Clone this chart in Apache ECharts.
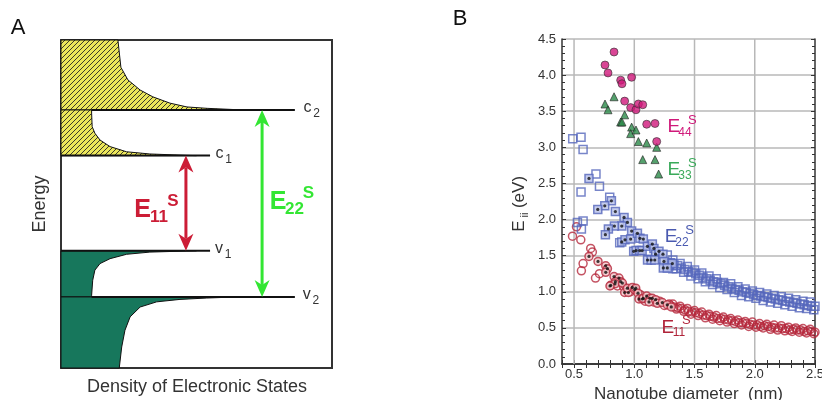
<!DOCTYPE html>
<html><head><meta charset="utf-8">
<script src="https://cdn.jsdelivr.net/npm/echarts@6.0.0/dist/echarts.min.js"></script>
<style>html,body{margin:0;padding:0;background:#fff}#c{width:822px;height:400px}</style>
</head><body><div id="c"></div>
<script>
// ---------------- Panel A : schematic density of states ----------------
const levelLetter = ['c', 'c', 'v', 'v'];
const levelSub = ['2', '1', '1', '2'];
const levelEnergy = [9.44, 7.77, 4.29, 2.60];
const levelStart = [1.13, 0, 0, 1.13];
const levelEnd = [8.63, 5.5, 5.5, 8.63];
const levelLabelX = [9.10, 5.85, 5.83, 9.07];

const conductionTop = [[0,12],[2.10,12],[2.21,11.0],[2.47,10.54],[2.92,10.17],[3.39,9.92],[4.02,9.69],[4.65,9.55],[5.39,9.50],[6.5,9.45],[6.5,9.44],[0,9.44]];
const conductionLow = [[0,9.44],[1.13,9.44],[1.13,9.32],[1.15,8.83],[1.25,8.59],[1.44,8.34],[1.81,8.10],[2.42,7.91],[3.28,7.83],[4.64,7.78],[5.0,7.77],[0,7.77]];
const valenceUp = [[0,4.29],[5.0,4.29],[4.64,4.28],[3.28,4.24],[2.42,4.16],[1.81,4.0],[1.44,3.82],[1.25,3.58],[1.17,3.21],[1.13,2.66],[1.13,2.60],[0,2.60]];
const valenceLow = [[0,2.60],[6.5,2.60],[5.38,2.56],[4.39,2.51],[3.53,2.42],[2.92,2.23],[2.55,1.87],[2.36,1.38],[2.24,0.77],[2.15,0],[0,0]];
const lobes = [conductionTop, conductionLow, valenceUp, valenceLow];

const arrowX = [4.61, 7.42];
const arrowFrom = [7.77, 9.44];
const arrowTo = [4.29, 2.60];
const gapSub = ['11', '22'];
const gapLabelX = [3.007, 8.007];
const gapLabelY = [5.77, 6.063];

// ---------------- Panel B : Kataura plot ----------------
const E44 = [[0.832,4.32],[0.757,4.14],[0.782,4.03],[0.887,3.93],[0.898,3.88],[0.978,3.97],[0.920,3.64],[0.970,3.55],[1.014,3.52],[1.034,3.60],[1.070,3.59],[1.103,3.32],[1.172,3.33],[1.186,3.08]];
const E33 = [[0.757,3.60],[0.782,3.52],[0.832,3.70],[0.920,3.45],[0.887,3.35],[0.898,3.35],[0.978,3.28],[0.970,3.19],[1.014,3.24],[1.034,3.08],[1.103,3.06],[1.186,3.00],[1.070,2.83],[1.172,2.83],[1.202,2.63]];

const E22open = [[0.489,3.12],[0.558,3.14],[0.575,2.97],[0.682,2.63],[0.558,2.38],[0.711,2.46],[0.796,2.31],[0.528,1.96],[0.575,1.98],[0.561,1.87],[0.879,1.68],[1.274,1.51],[1.288,1.36],[1.227,1.45],[1.30,1.40],[1.32,1.32],[1.114,1.56]];
const E22dot = [[0.624,2.57],[0.810,2.26],[0.755,2.19],[0.697,2.14],[0.843,2.11],[0.915,2.03],[0.943,1.96],[0.896,1.91],[0.835,1.91],[0.785,1.87],[0.760,1.79],[0.978,1.84],[0.896,1.69],[0.923,1.72],[0.970,1.73],[1.026,1.81],[1.047,1.74],[1.075,1.73],[0.995,1.56],[1.015,1.57],[1.045,1.57],[1.065,1.57],[1.109,1.63],[1.150,1.66],[1.163,1.60],[1.177,1.52],[1.205,1.56],[1.11,1.44],[1.14,1.44],[1.17,1.44],[1.238,1.52],[1.246,1.42],[1.316,1.39],[1.241,1.33],[1.274,1.33]];
const E22band = [
 [1.32,1.44],[1.38,1.39],[1.44,1.35],[1.50,1.30],[1.56,1.26],[1.62,1.22],[1.68,1.18],[1.74,1.13],[1.80,1.11],[1.86,1.07],[1.92,1.04],[1.98,1.01],[2.04,0.99],[2.10,0.97],[2.16,0.95],[2.22,0.93],[2.28,0.91],[2.34,0.89],[2.40,0.87],[2.46,0.86],
 [1.35,1.32],[1.41,1.27],[1.47,1.22],[1.53,1.18],[1.59,1.14],[1.65,1.10],[1.71,1.06],[1.77,1.03],[1.83,0.99],[1.89,0.95],[1.95,0.93],[2.01,0.91],[2.07,0.88],[2.13,0.86],[2.19,0.84],[2.25,0.82],[2.31,0.80],[2.37,0.78],[2.43,0.77],[2.49,0.75],
 [1.30,1.40],[1.36,1.36],[1.42,1.31],[1.48,1.27],[1.54,1.23],[1.60,1.18],[1.66,1.14],[1.72,1.11],[1.78,1.07],[1.84,1.03],[1.90,1.00],[1.96,0.98],[2.02,0.95],[2.08,0.93],[2.14,0.91],[2.20,0.89],[2.26,0.87],[2.32,0.85],[2.38,0.83],[2.44,0.81],[2.50,0.80],
 [1.33,1.37],[1.39,1.33],[1.45,1.28],[1.51,1.25],[1.57,1.20],[1.63,1.16],[1.69,1.13],[1.75,1.09],[1.81,1.05],[1.87,1.02],[1.93,0.99],[1.99,0.96],[2.05,0.94],[2.11,0.92],[2.17,0.90],[2.23,0.88],[2.29,0.86],[2.35,0.84],[2.41,0.82],[2.47,0.80]
];

const E11open = [[0.487,1.77],[0.520,1.90],[0.556,1.72],[0.638,1.60],[0.652,1.55],[0.575,1.39],[0.561,1.29],[0.711,1.25],[0.678,1.19],[0.935,1.03],[0.965,1.00],[1.05,0.96],[1.09,0.87],[1.16,0.86],[1.21,0.87],[1.25,0.81],[1.29,0.83],[0.91,1.07],[0.86,1.08]];
const E11dot = [[0.624,1.49],[0.699,1.42],[0.763,1.36],[0.777,1.32],[0.763,1.27],[0.832,1.21],[0.873,1.19],[0.887,1.14],[0.843,1.14],[0.804,1.09],[0.840,1.11],[0.798,1.08],[0.901,1.12],[0.920,0.99],[0.951,0.99],[0.943,1.05],[0.984,1.06],[1.003,1.03],[1.012,1.05],[1.031,0.98],[1.039,0.90],[1.067,0.90],[1.075,0.91],[1.103,0.94],[1.130,0.91],[1.150,0.91],[1.122,0.86],[1.177,0.89],[1.191,0.84],[1.233,0.85],[1.274,0.82],[1.307,0.79]];
const E11band = [
 [1.32,0.83],[1.38,0.80],[1.44,0.77],[1.50,0.74],[1.56,0.72],[1.62,0.69],[1.68,0.67],[1.74,0.65],[1.80,0.63],[1.86,0.61],[1.92,0.59],[1.98,0.58],[2.04,0.56],[2.10,0.55],[2.16,0.54],[2.22,0.53],[2.28,0.51],[2.34,0.50],[2.40,0.49],[2.46,0.48],
 [1.35,0.76],[1.41,0.73],[1.47,0.69],[1.53,0.67],[1.59,0.64],[1.65,0.62],[1.71,0.60],[1.77,0.58],[1.83,0.56],[1.89,0.54],[1.95,0.52],[2.01,0.51],[2.07,0.50],[2.13,0.48],[2.19,0.47],[2.25,0.46],[2.31,0.45],[2.37,0.44],[2.43,0.43],[2.49,0.42],
 [1.30,0.81],[1.36,0.78],[1.42,0.75],[1.48,0.72],[1.54,0.70],[1.60,0.67],[1.66,0.65],[1.72,0.63],[1.78,0.61],[1.84,0.59],[1.90,0.57],[1.96,0.55],[2.02,0.54],[2.08,0.53],[2.14,0.51],[2.20,0.50],[2.26,0.49],[2.32,0.48],[2.38,0.47],[2.44,0.46],[2.50,0.44],
 [1.33,0.79],[1.39,0.77],[1.45,0.73],[1.51,0.71],[1.57,0.68],[1.63,0.66],[1.69,0.63],[1.75,0.62],[1.81,0.60],[1.87,0.57],[1.93,0.56],[1.99,0.54],[2.05,0.52],[2.11,0.52],[2.17,0.50],[2.23,0.49],[2.29,0.47],[2.35,0.47],[2.41,0.45],[2.47,0.45]
];

const xGridValues = [0.5, 1.0, 1.5, 2.0];
const bLabelSub = ['44', '33', '22', '11'];
const bLabelX = [1.329, 1.329, 1.305, 1.279];
const bLabelY = [3.278, 2.683, 1.759, 0.503];

// ---------------- styles ----------------
const FONT = '"Liberation Sans", Arial, Helvetica, sans-serif';
const TXT = '#333';
const GAP_COLORS = ['#cc1d36', '#33e633'];
const B_LABEL_COLORS = ['#d0197a', '#3aaa5a', '#4a5ab0', '#b0243a'];
const GREEN_FILL = '#17775c';

function hatchCanvas() {
  const c = document.createElement('canvas');
  c.width = 5; c.height = 5;
  const g = c.getContext('2d');
  g.fillStyle = '#ebe65a'; g.fillRect(0, 0, 5, 5);
  g.strokeStyle = '#3a3a2a'; g.lineWidth = 1;
  g.beginPath();
  g.moveTo(0, 5); g.lineTo(5, 0);
  g.moveTo(-1, 1); g.lineTo(1, -1);
  g.moveTo(4, 6); g.lineTo(6, 4);
  g.stroke();
  return c;
}
const HATCH = { image: hatchCanvas(), repeat: 'repeat' };

const chart = echarts.init(document.getElementById('c'), null, { renderer: 'canvas', width: 822, height: 400 });

const tickStyle = { show: true, inside: true, length: 4, lineStyle: { color: '#333', width: 1 } };
const axisLineB = { show: true, lineStyle: { color: '#333', width: 1.5 } };
const RED = '#b5283c', BLUE = '#5566bb';

const option = {
  animation: false,
  backgroundColor: '#fff',
  grid: [
    { left: 61, top: 40, width: 271, height: 328, show: true, borderColor: '#333', borderWidth: 2, backgroundColor: '#fff', containLabel: false, outerBoundsMode: 'none' },
    { left: 562, top: 39, width: 253, height: 325, show: false, containLabel: false, outerBoundsMode: 'none' }
  ],
  xAxis: [
    { gridIndex: 0, type: 'value', min: 0, max: 10, show: false },
    { gridIndex: 1, type: 'value', min: 0.4, max: 2.5, interval: 0.1, position: 'bottom',
      axisLine: axisLineB, axisTick: tickStyle, splitLine: { show: false },
      axisLabel: { show: true, margin: 4, color: TXT, fontSize: 13, fontFamily: FONT,
        formatter: v => (Math.round(v * 10) % 5 === 0 ? (Math.round(v * 10) / 10).toFixed(1) : '') },
      name: 'Nanotube diameter  (nm)', nameLocation: 'middle', nameGap: 20,
      nameTextStyle: { color: TXT, fontSize: 17, fontFamily: FONT } },
    { gridIndex: 1, type: 'value', min: 0.4, max: 2.5, interval: 0.1, position: 'top',
      axisLine: axisLineB, axisTick: tickStyle, splitLine: { show: false }, axisLabel: { show: false } }
  ],
  yAxis: [
    { gridIndex: 0, type: 'value', min: 0, max: 12, show: false },
    { gridIndex: 1, type: 'value', min: 0, max: 4.5, interval: 0.5, position: 'left',
      axisLine: axisLineB, axisTick: tickStyle,
      minorTick: { show: true, splitNumber: 5, length: 3, lineStyle: { color: '#333', width: 1 } },
      splitLine: { show: true, lineStyle: { color: '#b8b8b8', width: 1.5 } },
      axisLabel: { margin: 6, color: TXT, fontSize: 13, fontFamily: FONT, formatter: v => v.toFixed(1) } },
    { gridIndex: 1, type: 'value', min: 0, max: 4.5, interval: 0.5, position: 'right',
      axisLine: axisLineB, axisTick: tickStyle,
      minorTick: { show: true, splitNumber: 5, length: 3, lineStyle: { color: '#333', width: 1 } },
      splitLine: { show: false }, axisLabel: { show: false } }
  ],
  graphic: [
    { type: 'text', x: 18, y: 28, style: { text: 'A', font: `22px ${FONT}`, fill: '#111', align: 'center', verticalAlign: 'middle' } },
    { type: 'text', x: 460, y: 19, style: { text: 'B', font: `22px ${FONT}`, fill: '#111', align: 'center', verticalAlign: 'middle' } },
    { type: 'text', x: 40, y: 204, rotation: Math.PI / 2, style: { text: 'Energy', font: `18px ${FONT}`, fill: TXT, align: 'center', verticalAlign: 'middle' } },
    { type: 'text', x: 197, y: 387, style: { text: 'Density of Electronic States', font: `18px ${FONT}`, fill: TXT, align: 'center', verticalAlign: 'middle' } },
    { type: 'text', x: 519, y: 226, rotation: Math.PI / 2, style: { text: 'E', font: `17px ${FONT}`, fill: TXT, align: 'center', verticalAlign: 'middle' } },
    { type: 'text', x: 525, y: 215, rotation: Math.PI / 2, style: { text: 'ii', font: `11px ${FONT}`, fill: TXT, align: 'center', verticalAlign: 'middle' } },
    { type: 'text', x: 519, y: 192, rotation: Math.PI / 2, style: { text: '(eV)', font: `17px ${FONT}`, fill: TXT, align: 'center', verticalAlign: 'middle' } }
  ],
  series: [
    // ---- Panel A ----
    { type: 'custom', xAxisIndex: 0, yAxisIndex: 0, silent: true, z: 2,
      data: lobes.map(l => l[0]),
      renderItem: (params, api) => {
        const i = params.dataIndex;
        const pts = lobes[i].map(p => api.coord(p));
        return { type: 'polygon', shape: { points: pts },
          style: { fill: i < 2 ? HATCH : GREEN_FILL, stroke: '#111', lineWidth: 1 } };
      } },
    { type: 'custom', xAxisIndex: 0, yAxisIndex: 0, silent: true, z: 3,
      data: levelEnergy.map((e, i) => [levelStart[i], e]),
      renderItem: (params, api) => {
        const i = params.dataIndex;
        const a = api.coord([levelStart[i], levelEnergy[i]]);
        const b = api.coord([levelEnd[i], levelEnergy[i]]);
        const t = api.coord([levelLabelX[i], levelEnergy[i]]);
        return { type: 'group', children: [
          { type: 'line', shape: { x1: a[0], y1: a[1], x2: b[0], y2: b[1] }, style: { stroke: '#111', lineWidth: 2 } },
          { type: 'text', x: t[0], y: t[1] - 2, style: { text: levelLetter[i], font: `16px ${FONT}`, fill: TXT, align: 'center', verticalAlign: 'middle' } },
          { type: 'text', x: t[0] + 9, y: t[1] + 4, style: { text: levelSub[i], font: `12px ${FONT}`, fill: TXT, align: 'center', verticalAlign: 'middle' } }
        ] };
      } },
    { type: 'custom', xAxisIndex: 0, yAxisIndex: 0, silent: true, z: 4,
      data: arrowX.map((x, i) => [x, arrowFrom[i]]),
      renderItem: (params, api) => {
        const i = params.dataIndex;
        const top = api.coord([arrowX[i], arrowFrom[i]]);
        const bot = api.coord([arrowX[i], arrowTo[i]]);
        const c = GAP_COLORS[i];
        const hw = 7.5, hl = 17, notch = 12;
        const lab = api.coord([gapLabelX[i], gapLabelY[i]]);
        return { type: 'group', children: [
          { type: 'line', shape: { x1: top[0], y1: top[1] + notch, x2: bot[0], y2: bot[1] - notch }, style: { stroke: c, lineWidth: 3 } },
          { type: 'polygon', shape: { points: [[top[0], top[1]], [top[0] - hw, top[1] + hl], [top[0], top[1] + notch], [top[0] + hw, top[1] + hl]] }, style: { fill: c } },
          { type: 'polygon', shape: { points: [[bot[0], bot[1]], [bot[0] - hw, bot[1] - hl], [bot[0], bot[1] - notch], [bot[0] + hw, bot[1] - hl]] }, style: { fill: c } },
          { type: 'text', x: lab[0], y: lab[1], style: { text: 'E', font: `bold 25px ${FONT}`, fill: c, align: 'center', verticalAlign: 'middle' } },
          { type: 'text', x: lab[0] + 16.5, y: lab[1] + 7.5, style: { text: gapSub[i], font: `bold 17px ${FONT}`, fill: c, align: 'center', verticalAlign: 'middle' } },
          { type: 'text', x: lab[0] + 30.5, y: lab[1] - 9, style: { text: 'S', font: `bold 17px ${FONT}`, fill: c, align: 'center', verticalAlign: 'middle' } }
        ] };
      } },

    // ---- Panel B ----
    { type: 'custom', xAxisIndex: 1, yAxisIndex: 1, silent: true, z: 1,
      data: xGridValues.map(v => [v, 0]),
      renderItem: (params, api) => {
        const v = api.value(0);
        const a = api.coord([v, 0]);
        const b = api.coord([v, 4.5]);
        return { type: 'line', shape: { x1: a[0], y1: a[1], x2: b[0], y2: b[1] }, style: { stroke: '#b8b8b8', lineWidth: 1.5 } };
      } },
    { type: 'scatter', xAxisIndex: 1, yAxisIndex: 1, z: 3, symbol: 'circle', symbolSize: 8, data: E11band,
      itemStyle: { color: 'rgba(255,255,255,0)', borderColor: RED, borderWidth: 1.5 } },
    { type: 'scatter', xAxisIndex: 1, yAxisIndex: 1, z: 3, symbol: 'circle', symbolSize: 8, data: E11open,
      itemStyle: { color: 'rgba(255,255,255,0)', borderColor: RED, borderWidth: 1.5 } },
    { type: 'scatter', xAxisIndex: 1, yAxisIndex: 1, z: 3, symbol: 'circle', symbolSize: 8, data: E11dot,
      itemStyle: { color: '#f2c4c8', borderColor: RED, borderWidth: 1.5 } },
    { type: 'scatter', xAxisIndex: 1, yAxisIndex: 1, z: 3, symbol: 'rect', symbolSize: 8, data: E22band,
      itemStyle: { color: 'rgba(255,255,255,0)', borderColor: BLUE, borderWidth: 1.5 } },
    { type: 'scatter', xAxisIndex: 1, yAxisIndex: 1, z: 3, symbol: 'rect', symbolSize: 8, data: E22open,
      itemStyle: { color: 'rgba(255,255,255,0)', borderColor: BLUE, borderWidth: 1.5 } },
    { type: 'scatter', xAxisIndex: 1, yAxisIndex: 1, z: 3, symbol: 'rect', symbolSize: 8, data: E22dot,
      itemStyle: { color: '#b8c0e8', borderColor: BLUE, borderWidth: 1.5 } },
    { type: 'scatter', xAxisIndex: 1, yAxisIndex: 1, z: 4, symbol: 'circle', symbolSize: 3.2, data: E11dot.concat(E22dot),
      itemStyle: { color: '#111' } },
    { type: 'scatter', xAxisIndex: 1, yAxisIndex: 1, z: 3, symbol: 'triangle', symbolSize: 8, data: E33,
      itemStyle: { color: '#2a8a48', borderColor: '#222', borderWidth: 0.8 } },
    { type: 'scatter', xAxisIndex: 1, yAxisIndex: 1, z: 3, symbol: 'circle', symbolSize: 8, data: E44,
      itemStyle: { color: '#d0187a', borderColor: '#333', borderWidth: 0.8 } },
    { type: 'custom', xAxisIndex: 1, yAxisIndex: 1, silent: true, z: 5, clip: false,
      data: bLabelX.map((x, i) => [x, bLabelY[i]]),
      renderItem: (params, api) => {
        const i = params.dataIndex;
        const p = api.coord([bLabelX[i], bLabelY[i]]);
        const c = B_LABEL_COLORS[i];
        return { type: 'group', children: [
          { type: 'text', x: p[0], y: p[1], style: { text: 'E', font: `19px ${FONT}`, fill: c, align: 'center', verticalAlign: 'middle' } },
          { type: 'text', x: p[0] + 11, y: p[1] + 5.5, style: { text: bLabelSub[i], font: `12px ${FONT}`, fill: c, align: 'center', verticalAlign: 'middle' } },
          { type: 'text', x: p[0] + 18.5, y: p[1] - 7, style: { text: 'S', font: `13px ${FONT}`, fill: c, align: 'center', verticalAlign: 'middle' } }
        ] };
      } }
  ]
};
chart.setOption(option);
</script></body></html>
